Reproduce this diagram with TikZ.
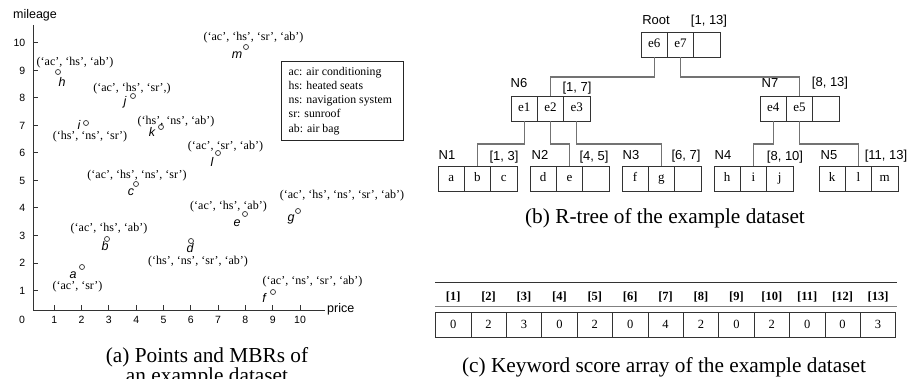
\documentclass[tikz,border=0pt]{standalone}
\usepackage{fontspec}
\setmainfont{Liberation Serif}
\setsansfont{Liberation Sans}

% a data point: id, circle x/y, letter x/y, keyword list x/y, keyword list
\newcommand\datapt[8]{%
  \node[ptmark] (p#1) at (#2,#3) {};
  \node[plab] (l#1) at (#4,#5) {#1};
  \node[tup] (t#1) at (#6,#7) {#8};}

% an R-tree node with three entries, placed by its top-left corner
\newcommand\rtnode[6]{%
  \node[cell, anchor=north west] (#1-1) at (#2,#3) {#4};
  \node[cell, anchor=north west] (#1-2) at (#1-1.north east) {#5};
  \node[cell, anchor=north west] (#1-3) at (#1-2.north east) {#6};}

\begin{document}
\begin{tikzpicture}[x=1pt,y=-1pt,
  axisline/.style={draw=black!80, line width=1pt},
  tup/.style={font=\fontsize{12}{14}\selectfont, inner sep=0},
  ptmark/.style={circle, draw=black!80, line width=0.7pt, inner sep=0, minimum size=5pt},
  plab/.style={font=\sffamily\itshape\fontsize{12.5}{14}\selectfont, inner sep=0},
  axnum/.style={font=\sffamily\fontsize{10.5}{12}\selectfont, inner sep=0},
  axname/.style={font=\sffamily\fontsize{12.5}{14}\selectfont, inner sep=0},
  legendframe/.style={draw=black!85, line width=0.8pt, minimum width=122pt,
    minimum height=79pt, inner sep=0},
  legendtext/.style={font=\fontsize{11.8}{14.2}\selectfont, align=left, inner sep=0},
  cell/.style={draw=black!80, line width=0.8pt, minimum width=26.3pt, minimum height=25pt,
    inner sep=0, outer sep=0, text height=9pt, text depth=3pt, font=\fontsize{13}{15}\selectfont},
  nlab/.style={font=\sffamily\fontsize{13}{15}\selectfont, inner sep=0},
  conn/.style={draw=black!55, line width=1.1pt},
  hdr/.style={font=\bfseries\fontsize{12.5}{14}\selectfont, inner sep=0},
  acell/.style={draw=black!80, line width=0.7pt, minimum width=35.4pt, minimum height=25pt,
    inner sep=0, outer sep=0, font=\fontsize{12.5}{14}\selectfont},
  captext/.style={font=\fontsize{21.3}{24}\selectfont, inner sep=0}]

\useasboundingbox (0,0) rectangle (909,379);

% ---------- (a) scatter plot ----------
\coordinate (ytop) at (33,25);
\coordinate (orig) at (33,310);
\coordinate (xend) at (325,310);
\draw[axisline] (ytop) -- (orig) -- (xend);
\foreach \v in {1,...,10} {
  \draw[axisline] (33,{318-27.5*\v}) -- ++(5,0);
  \node[axnum, anchor=east] (yl\v) at (25.5,{318-27.5*\v}) {\v};
  \draw[axisline] ({27+27.3*\v},310) -- ++(0,-5);
  \node[axnum] (xl\v) at ({27+27.3*\v},320) {\v};
}
\node[axnum] (zero) at (22,320) {0};
\node[axname] (ylab) at (35,15) {mileage};
\node[axname, anchor=west] (xlab) at (327,309) {price};

\datapt{a}{82}{267}{73}{275}{77.5}{287}{(‘ac’, ‘sr’)}
\datapt{b}{107}{239}{105}{246}{109}{229}{(‘ac’, ‘hs’, ‘ab’)}
\datapt{c}{136}{184}{131}{192}{137}{176}{(‘ac’, ‘hs’, ‘ns’, ‘sr’)}
\datapt{d}{191}{241}{190}{248}{198}{262}{(‘hs’, ‘ns’, ‘sr’, ‘ab’)}
\datapt{e}{245}{214}{237}{223}{228.5}{207}{(‘ac’, ‘hs’, ‘ab’)}
\datapt{f}{273}{292}{264}{298}{312.5}{282}{(‘ac’, ‘ns’, ‘sr’, ‘ab’)}
\datapt{g}{298}{211}{291}{219}{342}{196}{(‘ac’, ‘hs’, ‘ns’, ‘sr’, ‘ab’)}
\datapt{h}{58}{72}{62}{82}{75}{63}{(‘ac’, ‘hs’, ‘ab’)}
\datapt{i}{86}{123}{79}{125}{90}{137}{(‘hs’, ‘ns’, ‘sr’)}
\datapt{j}{133}{96}{125}{102}{132}{89}{(‘ac’, ‘hs’, ‘sr’,)}
\datapt{k}{161}{127}{152}{132}{176}{122}{(‘hs’, ‘ns’, ‘ab’)}
\datapt{l}{218}{153}{212}{162}{225.5}{147}{(‘ac’, ‘sr’, ‘ab’)}
\datapt{m}{246}{47}{237}{55}{253.5}{38}{(‘ac’, ‘hs’, ‘sr’, ‘ab’)}

% keyword legend
\node[legendframe, anchor=north west] (legend) at (281,61) {};
\node[legendtext, anchor=west] (legendlist) at ([xshift=7.5pt]legend.west)
  {ac: air conditioning\\hs: heated seats\\ns: navigation system\\sr: sunroof\\ab: air bag};

\node[captext, anchor=base] (capa1) at (207,362) {(a) Points and MBRs of};
\node[captext, anchor=base] (capa2) at (207,382) {an example dataset};

% ---------- (b) R-tree ----------
\rtnode{root}{641}{32}{e6}{e7}{}
\rtnode{n6}{511}{96}{e1}{e2}{e3}
\rtnode{n7}{760}{96}{e4}{e5}{}
\rtnode{n1}{438}{166}{a}{b}{c}
\rtnode{n2}{530}{166}{d}{e}{}
\rtnode{n3}{622}{166}{f}{g}{}
\rtnode{n4}{714}{166}{h}{i}{j}
\rtnode{n5}{819}{166}{k}{l}{m}

\node[nlab] (rootname) at (656,20) {Root};
\node[nlab] (rootrange) at (709,21) {[1, 13]};
\node[nlab] (n6name) at (519,83) {N6};
\node[nlab] (n6range) at (577,88) {[1, 7]};
\node[nlab] (n7name) at (770,83) {N7};
\node[nlab] (n7range) at (830,83) {[8, 13]};
\node[nlab] (n1name) at (447,155) {N1};
\node[nlab] (n1range) at (504,157) {[1, 3]};
\node[nlab] (n2name) at (540,155) {N2};
\node[nlab] (n2range) at (594,157) {[4, 5]};
\node[nlab] (n3name) at (631,155) {N3};
\node[nlab] (n3range) at (686,156) {[6, 7]};
\node[nlab] (n4name) at (723,155) {N4};
\node[nlab] (n4range) at (785,157) {[8, 10]};
\node[nlab] (n5name) at (829,155) {N5};
\node[nlab] (n5range) at (886,156) {[11, 13]};

\draw[conn] (root-1.south) -- ++(0,20) -| (n6-2.north);
\draw[conn] (root-2.south) -- ++(0,20) -| (n7-2.north);
\draw[conn] (n6-1.south) -- ++(0,23) -| (n1-2.north);
\draw[conn] (n6-2.south) -- ++(0,23) -| (n2-2.north);
\draw[conn] (n6-3.south) -- ++(0,23) -| (n3-2.north);
\draw[conn] (n7-1.south) -- ++(0,23) -| (n4-2.north);
\draw[conn] (n7-2.south) -- ++(0,23) -| (n5-2.north);

\node[captext] (capb) at (665,218) {(b) R-tree of the example dataset};

% ---------- (c) keyword score array ----------
\draw[line width=1pt, black!80] (435,282) -- (897,282);
\draw[line width=0.6pt, black!50] (435,306) -- (897,306);
\foreach \k/\s in {1/0,2/2,3/3,4/0,5/2,6/0,7/4,8/2,9/0,10/2,11/0,12/0,13/3} {
  \node[hdr] (h\k) at ({453.2+35.4*(\k-1)},297) {[\k]};
  \node[acell, anchor=north west] (s\k) at ({435.5+35.4*(\k-1)},312) {\s};
}

\node[captext] (capc) at (664,367) {(c) Keyword score array of the example dataset};
\end{tikzpicture}
\end{document}
